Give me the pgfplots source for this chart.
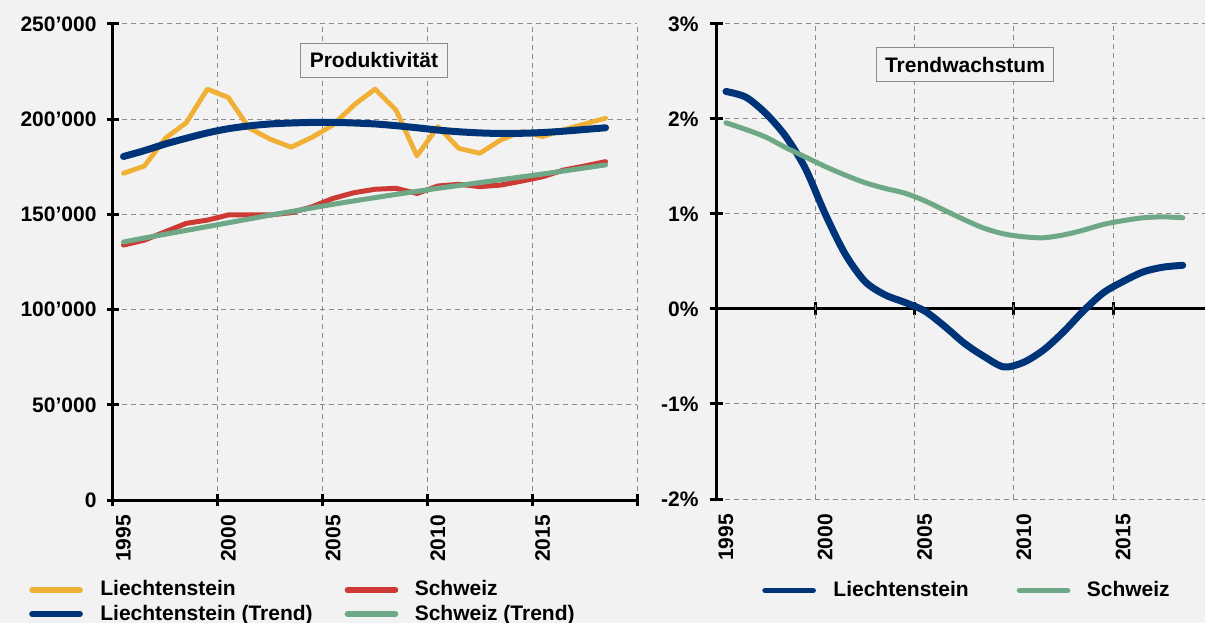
\documentclass[border=0pt]{standalone}
\usepackage{fontspec}
\setmainfont{Liberation Sans}
\usepackage{pgfplots}
\pgfplotsset{compat=1.18}
\definecolor{bg}{HTML}{F2F2F2}
\definecolor{liyel}{HTML}{F0B035}
\definecolor{chred}{HTML}{CD3A35}
\definecolor{linavy}{HTML}{003478}
\definecolor{chgreen}{HTML}{6FA886}
\definecolor{gridgray}{HTML}{8C8C8C}

\pgfplotsset{
  chartbase/.style={
    scale only axis,
    font=\fontsize{10.5bp}{12.6bp}\selectfont\bfseries,
    xmin=1994.5, xmax=2019.5,
    xtick={1994.5,1999.5,2004.5,2009.5,2014.5,2019.5},
    xticklabels={},
    extra x ticks={1995,2000,2005,2010,2015},
    extra x tick labels={1995,2000,2005,2010,2015},
    extra x tick style={major tick length=0pt, grid=none,
      tick label style={rotate=90, anchor=east}},
    xticklabel shift=4bp,
    scaled y ticks=false,
    grid=major,
    major grid style={gridgray, line width=0.5bp, dash pattern=on 2.5bp off 2bp},
    tick align=center,
    major tick length=6.5bp,
    tick style={black, line width=1.5bp},
    axis line style={black, line width=1.5bp},
    legend cell align=left,
    legend image code/.code={%
      \draw[#1, line width=2.8bp, line cap=round] (0bp,0bp) -- (24bp,0bp);
      \path (30.4bp,0bp);},
  },
  legstyle/.style={draw=none, fill=none, anchor=north west,
    font=\fontsize{10.5bp}{12.6bp}\selectfont\bfseries, row sep=-1bp},
}

\begin{document}
\begin{tikzpicture}
\useasboundingbox (0,0) rectangle (602.5bp,311.5bp);
\fill[bg] (0,0) rectangle (602.5bp,311.5bp);
\clip (0,0) rectangle (602.5bp,311.5bp);

% Produktivitaet
\begin{axis}[chartbase,
  at={(56.5bp,61.5bp)}, anchor=south west,
  width=262bp, height=238bp,
  ymin=0, ymax=250000,
  ytick={0,50000,100000,150000,200000,250000},
  yticklabels={0,50’000,100’000,150’000,200’000,250’000},
  yticklabel shift=1.5bp,
  axis x line*=bottom, axis y line*=left,
  legend columns=2,
  legend style={legstyle, at={(-0.172,-0.152)},
    /tikz/every even column/.append style={column sep=14bp}},
]
\addplot[liyel, line width=2.4bp, line join=round, line cap=round] coordinates {
  (1995,171600)(1996,175400)(1997,190000)(1998,198200)(1999,215800)
  (2000,211400)(2001,195300)(2002,189500)(2003,185300)(2004,190500)
  (2005,197000)(2006,207500)(2007,215800)(2008,204900)(2009,180700)
  (2010,196100)(2011,184700)(2012,182100)(2013,189100)(2014,193500)
  (2015,190900)(2016,194400)(2017,197500)(2018,200500)
};
\addlegendentry{Liechtenstein}
\addplot[chred, line width=2.5bp, line join=round, line cap=round] coordinates {
  (1995,133900)(1996,136500)(1997,140900)(1998,145300)(1999,147000)
  (2000,149700)(2001,149700)(2002,149700)(2003,150900)(2004,154000)
  (2005,158400)(2006,161400)(2007,163200)(2008,163700)(2009,161000)
  (2010,164900)(2011,165800)(2012,164600)(2013,165400)(2014,167500)
  (2015,169800)(2016,173300)(2017,175400)(2018,177700)
};
\addlegendentry{Schweiz}
\addplot[linavy, line width=3.5bp, smooth, line cap=round] coordinates {
  (1995,180400)(1996,183500)(1997,187000)(1998,190000)(1999,192800)
  (2000,195000)(2001,196500)(2002,197500)(2003,198000)(2004,198300)
  (2005,198300)(2006,198000)(2007,197500)(2008,196600)(2009,195500)
  (2010,194300)(2011,193400)(2012,192800)(2013,192500)(2014,192600)
  (2015,193000)(2016,193700)(2017,194600)(2018,195500)
};
\addlegendentry{Liechtenstein (Trend)}
\addplot[chgreen, line width=2.5bp, smooth, line cap=round] coordinates {
  (1995,135500)(1996,137600)(1997,139600)(1998,141600)(1999,143600)
  (2000,145600)(2001,147600)(2002,149600)(2003,151500)(2004,153400)
  (2005,155300)(2006,157100)(2007,158800)(2008,160500)(2009,162100)
  (2010,163700)(2011,165200)(2012,166700)(2013,168200)(2014,169700)
  (2015,171200)(2016,172800)(2017,174400)(2018,176000)
};
\addlegendentry{Schweiz (Trend)}
\node[draw=gridgray, line width=0.5bp, fill=bg, inner xsep=4.5bp, minimum height=17bp]
  at (axis description cs:0.498,0.924) {Produktivität};
\end{axis}

% zero line with boundary ticks
\begin{axis}[scale only axis,
  at={(358bp,62bp)}, anchor=south west,
  width=248.25bp, height=237.5bp,
  xmin=1994.5, xmax=2019.5, ymin=-2, ymax=3,
  axis x line*=middle, axis y line=none,
  xtick={1994.5,1999.5,2004.5,2009.5,2014.5,2019.5}, xticklabels={},
  ytick=\empty,
  tick align=center, major tick length=6.5bp,
  tick style={black, line width=1.5bp},
  axis line style={black, line width=1.5bp},
]
\end{axis}

% Trendwachstum
\begin{axis}[chartbase,
  at={(358bp,62bp)}, anchor=south west,
  width=248.25bp, height=237.5bp,
  ymin=-2, ymax=3,
  ytick={-2,-1,1,2,3},
  yticklabels={-2\%,-1\%,1\%,2\%,3\%},
  extra y ticks={0}, extra y tick labels={0\%},
  extra y tick style={grid=none},
  yticklabel shift=2bp,
  axis x line*=bottom, axis y line*=left,
  x axis line style={draw=none},
  xtick style={draw=none},
  legend columns=2,
  legend style={legstyle, at={(0.0805,-0.156)},
    /tikz/every even column/.append style={column sep=22bp}},
]
\addplot[linavy, line width=3.5bp, smooth, line cap=round] coordinates {
  (1995,2.29)(1996,2.23)(1997,2.06)(1998,1.82)(1999,1.48)
  (2000,1.00)(2001,0.58)(2002,0.29)(2003,0.15)(2004,0.07)
  (2005,-0.02)(2006,-0.18)(2007,-0.36)(2008,-0.50)(2009,-0.61)
  (2010,-0.56)(2011,-0.43)(2012,-0.24)(2013,-0.02)(2014,0.17)
  (2015,0.29)(2016,0.39)(2017,0.44)(2018,0.46)
};
\addlegendentry{Liechtenstein}
\addplot[chgreen, line width=2.5bp, smooth, line cap=round] coordinates {
  (1995,1.96)(1996,1.89)(1997,1.81)(1998,1.70)(1999,1.60)
  (2000,1.50)(2001,1.41)(2002,1.33)(2003,1.27)(2004,1.22)
  (2005,1.14)(2006,1.04)(2007,0.94)(2008,0.85)(2009,0.79)
  (2010,0.76)(2011,0.75)(2012,0.78)(2013,0.83)(2014,0.89)
  (2015,0.93)(2016,0.96)(2017,0.97)(2018,0.96)
};
\addlegendentry{Schweiz}
\node[draw=gridgray, line width=0.5bp, fill=bg, inner xsep=4.5bp, minimum height=17bp]
  at (axis description cs:0.5015,0.914) {Trendwachstum};
\end{axis}
\end{tikzpicture}
\end{document}
